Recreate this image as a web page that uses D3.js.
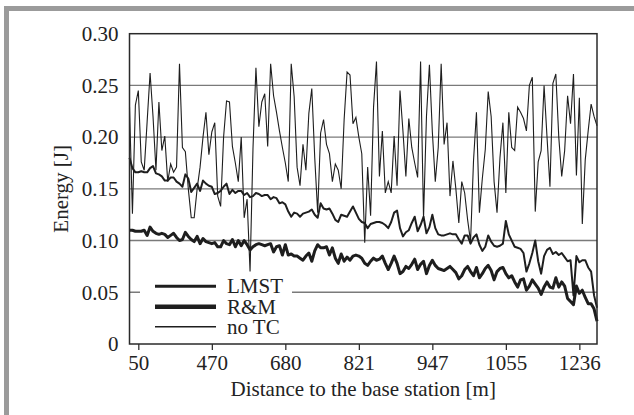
<!DOCTYPE html>
<html>
<head>
<meta charset="utf-8">
<script src="https://cdn.jsdelivr.net/npm/d3@7"></script>
<style>
  html, body { margin: 0; padding: 0; background: #fff; }
  svg { display: block; }
  text { font-family: "Liberation Serif", "Times New Roman", serif; fill: #222; }
</style>
</head>
<body>
<svg id="chart" width="634" height="415"></svg>
<script>
// ---- data ----
const tickIndex = [3, 28, 53, 78, 103, 128, 153];
const tickLabels = ["50", "470", "680", "821", "947", "1055", "1236"];
const yTicks = [0, 0.05, 0.10, 0.15, 0.20, 0.25, 0.30];
const seriesNames = ["LMST", "R&M", "no TC"];

const noTC = [
0.229,0.126,0.231,0.245,0.176,0.168,0.215,0.262,0.220,0.168,
0.234,0.187,0.201,0.157,0.174,0.166,0.171,0.271,0.190,0.186,
0.150,0.122,0.122,0.150,0.171,0.200,0.224,0.183,0.205,0.214,
0.143,0.133,0.200,0.235,0.234,0.191,0.175,0.157,0.200,0.122,
0.140,0.070,0.189,0.267,0.210,0.234,0.242,0.191,0.271,0.240,
0.224,0.206,0.190,0.175,0.157,0.271,0.239,0.171,0.153,0.193,
0.168,0.223,0.247,0.180,0.127,0.204,0.217,0.193,0.184,0.157,
0.174,0.168,0.150,0.217,0.263,0.260,0.213,0.219,0.200,0.184,
0.098,0.171,0.124,0.229,0.273,0.162,0.206,0.146,0.157,0.146,
0.201,0.153,0.245,0.206,0.162,0.218,0.190,0.175,0.161,0.273,
0.122,0.220,0.270,0.205,0.157,0.190,0.271,0.193,0.214,0.143,
0.177,0.150,0.117,0.157,0.146,0.120,0.099,0.177,0.224,0.127,
0.160,0.188,0.244,0.220,0.157,0.127,0.180,0.214,0.146,0.224,
0.190,0.187,0.229,0.224,0.218,0.206,0.250,0.258,0.128,0.176,
0.187,0.250,0.200,0.152,0.252,0.261,0.200,0.162,0.187,0.240,
0.213,0.261,0.163,0.238,0.116,0.178,0.206,0.232,0.220,0.211
];

const lmst = [
0.180,0.170,0.166,0.166,0.167,0.166,0.166,0.170,0.172,0.165,
0.164,0.162,0.158,0.158,0.161,0.161,0.157,0.155,0.152,0.164,
0.160,0.147,0.151,0.155,0.148,0.158,0.155,0.153,0.152,0.145,
0.146,0.148,0.152,0.155,0.145,0.149,0.146,0.148,0.148,0.144,
0.146,0.142,0.143,0.146,0.145,0.143,0.144,0.144,0.140,0.142,
0.141,0.136,0.137,0.135,0.128,0.123,0.127,0.126,0.123,0.126,
0.127,0.128,0.130,0.125,0.122,0.136,0.131,0.130,0.131,0.126,
0.120,0.118,0.125,0.124,0.123,0.128,0.133,0.127,0.121,0.118,
0.117,0.112,0.116,0.117,0.118,0.118,0.117,0.115,0.112,0.118,
0.127,0.129,0.112,0.104,0.108,0.110,0.117,0.123,0.109,0.115,
0.123,0.107,0.113,0.125,0.112,0.106,0.105,0.105,0.106,0.107,
0.106,0.106,0.101,0.097,0.105,0.105,0.097,0.103,0.106,0.096,
0.090,0.094,0.105,0.099,0.095,0.094,0.095,0.097,0.119,0.106,
0.100,0.094,0.093,0.092,0.088,0.070,0.078,0.088,0.100,0.080,
0.068,0.085,0.091,0.093,0.087,0.089,0.086,0.088,0.084,0.080,
0.081,0.047,0.085,0.079,0.081,0.081,0.074,0.070,0.047,0.035
];

const rm = [
0.110,0.110,0.109,0.109,0.109,0.110,0.105,0.113,0.109,0.107,
0.106,0.107,0.106,0.103,0.105,0.107,0.103,0.100,0.101,0.108,
0.104,0.101,0.099,0.104,0.097,0.102,0.099,0.098,0.097,0.098,
0.094,0.094,0.100,0.097,0.096,0.101,0.094,0.100,0.095,0.100,
0.096,0.091,0.094,0.096,0.097,0.096,0.095,0.096,0.097,0.089,
0.094,0.095,0.086,0.096,0.086,0.087,0.085,0.085,0.083,0.081,
0.085,0.088,0.080,0.090,0.096,0.093,0.093,0.094,0.086,0.093,
0.083,0.078,0.087,0.080,0.084,0.081,0.085,0.086,0.085,0.083,
0.078,0.076,0.080,0.083,0.081,0.082,0.085,0.078,0.072,0.078,
0.085,0.078,0.068,0.070,0.075,0.073,0.077,0.082,0.072,0.077,
0.080,0.068,0.076,0.081,0.076,0.073,0.072,0.071,0.073,0.075,
0.072,0.069,0.063,0.066,0.072,0.075,0.070,0.066,0.074,0.064,
0.068,0.073,0.076,0.071,0.062,0.070,0.073,0.074,0.068,0.064,
0.066,0.060,0.055,0.062,0.063,0.052,0.056,0.062,0.058,0.054,
0.048,0.055,0.060,0.055,0.054,0.064,0.055,0.060,0.056,0.044,
0.041,0.038,0.056,0.049,0.052,0.045,0.039,0.039,0.034,0.022
];

// ---- drawing ----
const svg = d3.select("#chart");
const L = 129.5, R = 597, T = 33.7, B = 344;
const FS = "21px";

// outer gray frame (left and top)
svg.append("rect").attr("x", 4).attr("y", 6).attr("width", 5).attr("height", 409).attr("fill", "#9b9b9b");
svg.append("rect").attr("x", 4).attr("y", 6).attr("width", 630).attr("height", 5).attr("fill", "#9b9b9b");

const x = d3.scaleLinear().domain([0, noTC.length - 1]).range([L, R]);
const y = d3.scaleLinear().domain([0, 0.30]).range([B, T]);

// gridlines
svg.append("g").selectAll("line")
  .data(yTicks.filter(v => v > 0 && v < 0.30))
  .join("line")
  .attr("x1", L).attr("x2", R)
  .attr("y1", d => y(d)).attr("y2", d => y(d))
  .attr("stroke", "#7a7a7a").attr("stroke-width", 1.4);

// y axis labels
const yAxis = d3.axisLeft(y).tickValues(yTicks)
  .tickFormat(d => d === 0 ? "0" : d3.format(".2f")(d))
  .tickSize(0).tickPadding(11);
const gy = svg.append("g").attr("transform", `translate(${L},0)`).call(yAxis);
gy.select(".domain").remove();
gy.selectAll("text").style("font-size", FS).style("font-family", "Liberation Serif").attr("fill", "#222");

// x axis
const xAxis = d3.axisBottom(x).tickValues(tickIndex)
  .tickFormat((d, i) => tickLabels[i]).tickSize(6).tickPadding(5);
const gx = svg.append("g").attr("transform", `translate(0,${B})`).call(xAxis);
gx.select(".domain").remove();
gx.selectAll("line").attr("stroke", "#222").attr("stroke-width", 1.2);
gx.selectAll("text").style("font-size", FS).style("font-family", "Liberation Serif").attr("fill", "#222");

// lines
const line = d3.line().x((d, i) => x(i)).y(d => y(d));
svg.append("path").datum(noTC).attr("d", line)
  .attr("fill", "none").attr("stroke", "#1e1e1e").attr("stroke-width", 1.1).attr("stroke-linejoin", "miter");
svg.append("path").datum(lmst).attr("d", line)
  .attr("fill", "none").attr("stroke", "#1e1e1e").attr("stroke-width", 2.0).attr("stroke-linejoin", "round");
svg.append("path").datum(rm).attr("d", line)
  .attr("fill", "none").attr("stroke", "#1e1e1e").attr("stroke-width", 3.0).attr("stroke-linejoin", "round");

// plot frame
svg.append("rect").attr("x", L).attr("y", T).attr("width", R - L).attr("height", B - T)
  .attr("fill", "none").attr("stroke", "#2a2a2a").attr("stroke-width", 1.5);

// legend
const lg = svg.append("g");
lg.append("rect").attr("x", 140).attr("y", 274).attr("width", 152).attr("height", 64).attr("fill", "#fff");
const legendWidths = [3, 4.5, 1.4];
const legendY = [286.3, 306.7, 326.7];
seriesNames.forEach((name, i) => {
  lg.append("line").attr("x1", 155).attr("x2", 216)
    .attr("y1", legendY[i]).attr("y2", legendY[i])
    .attr("stroke", "#1e1e1e").attr("stroke-width", legendWidths[i]);
  lg.append("text").attr("x", 227).attr("y", legendY[i] + 7)
    .style("font-size", FS).text(name);
});

// axis titles
svg.append("text").attr("x", (L + R) / 2).attr("y", 396).attr("text-anchor", "middle")
  .style("font-size", FS).text("Distance to the base station [m]");
svg.append("text").attr("transform", `translate(68,${(T + B) / 2}) rotate(-90)`)
  .attr("text-anchor", "middle").style("font-size", FS).text("Energy [J]");
</script>
</body>
</html>
